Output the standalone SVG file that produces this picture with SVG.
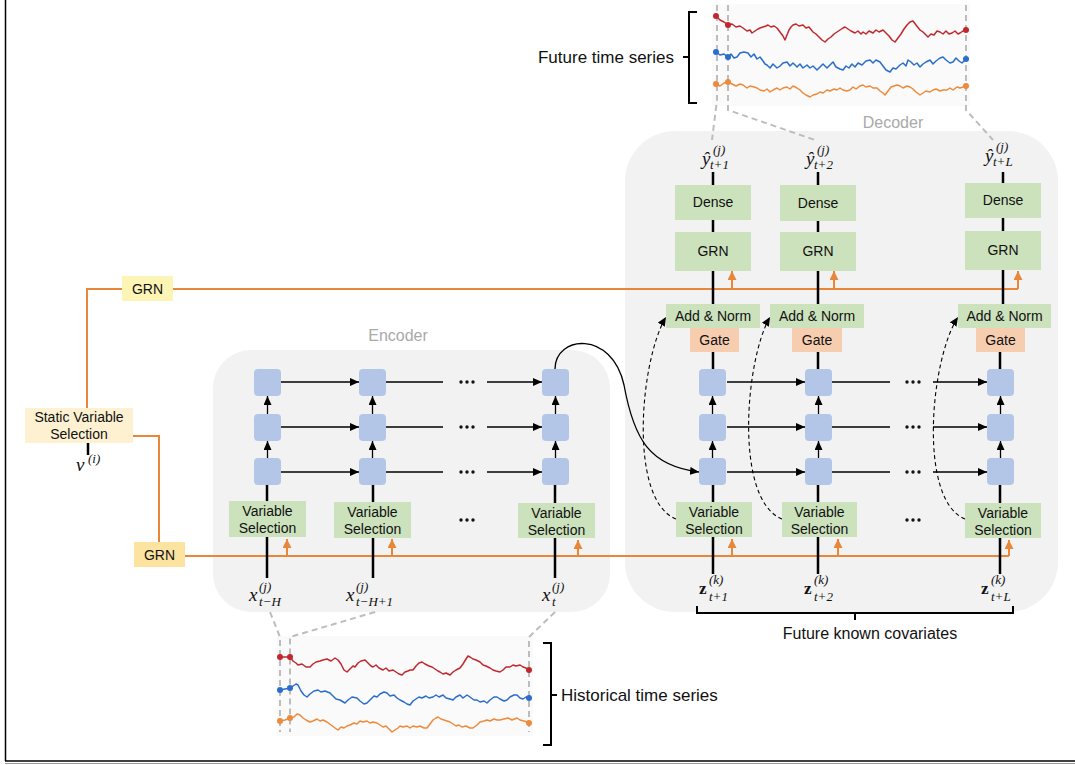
<svg xmlns="http://www.w3.org/2000/svg" width="1075" height="765" viewBox="0 0 1075 765">
<defs>
<style>
.panel{fill:#f2f2f2}
.ptitle{font-family:"Liberation Sans",Arial,sans-serif;font-size:16px;fill:#a9a9a9;text-anchor:middle}
.sq{fill:#b4c6e7}
.grn{fill:#cce2bd}
.gate{fill:#f7cdb0}
.lbl{font-family:"Liberation Sans",Arial,sans-serif;font-size:14px;fill:#111;text-anchor:middle}
.big{font-family:"Liberation Sans",Arial,sans-serif;font-size:17px;fill:#111}
.m{font-family:"Liberation Serif","Times New Roman",serif;font-style:italic;fill:#111}
.mu{font-family:"Liberation Serif","Times New Roman",serif;font-weight:bold;fill:#111}
.stem{stroke:#000;stroke-width:2.5;fill:none}
.thin{stroke:#000;stroke-width:1.3;fill:none}
.arr{stroke:#000;stroke-width:1.3;fill:none;marker-end:url(#ah)}
.dash{stroke:#000;stroke-width:1.1;fill:none;stroke-dasharray:4 3;marker-end:url(#ah)}
.or{stroke:#e8873a;stroke-width:2;fill:none}
.orar{stroke:#e8873a;stroke-width:2;fill:none;marker-end:url(#oh)}
.guide{stroke:#bdbdbd;stroke-width:2;fill:none;stroke-dasharray:6 4}
.brk{stroke:#000;stroke-width:2;fill:none}
.sr{stroke:#c1272d;stroke-width:1.5;fill:none;stroke-linejoin:round}
.sb{stroke:#2a6dcc;stroke-width:1.5;fill:none;stroke-linejoin:round}
.so{stroke:#ee8a3a;stroke-width:1.5;fill:none;stroke-linejoin:round}
</style>
<marker id="ah" markerUnits="userSpaceOnUse" markerWidth="10" markerHeight="8" refX="9" refY="4" orient="auto">
<path d="M0,0 L9,4 L0,8 z" fill="#000"/>
</marker>
<marker id="oh" markerUnits="userSpaceOnUse" markerWidth="10" markerHeight="9" refX="9" refY="4.5" orient="auto">
<path d="M0,0 L9,4.5 L0,9 z" fill="#e8873a"/>
</marker>
<g id="dots"><circle cx="-6" cy="0" r="1.7" fill="#111"/><circle cx="0" cy="0" r="1.7" fill="#111"/><circle cx="6" cy="0" r="1.7" fill="#111"/></g>
<!-- one column of three stacked cells with upward arrows, origin at cell column centre -->
<g id="cells">
<rect class="sq" x="-13.5" y="369" width="27" height="27" rx="4"/>
<rect class="sq" x="-13.5" y="414" width="27" height="27" rx="4"/>
<rect class="sq" x="-13.5" y="458" width="27" height="27" rx="4"/>
<line class="arr" x1="0" y1="458" x2="0" y2="441"/>
<line class="arr" x1="0" y1="414" x2="0" y2="396"/>
</g>
<!-- three horizontal arrows between neighbouring columns -->
<g id="hrow">
<line class="arr" x1="0" y1="382" x2="78" y2="382"/>
<line class="arr" x1="0" y1="427" x2="78" y2="427"/>
<line class="arr" x1="0" y1="472" x2="78" y2="472"/>
</g>
</defs>

<rect width="1075" height="765" fill="#fff"/>
<!-- page frame -->
<line x1="5.5" y1="0" x2="5.5" y2="761" stroke="#000" stroke-width="1.5"/>
<line x1="5" y1="761" x2="1075" y2="761" stroke="#000" stroke-width="1.5"/>
<line x1="5" y1="763.5" x2="1075" y2="763.5" stroke="#9a9a9a" stroke-width="1"/>

<!-- panels -->
<g id="encoder-panel">
<rect class="panel" x="213" y="350" width="397" height="262" rx="38"/>
<text class="ptitle" x="398" y="341">Encoder</text>
</g>
<g id="decoder-panel">
<rect class="panel" x="625" y="131" width="433" height="481" rx="50"/>
<text class="ptitle" x="893" y="128">Decoder</text>
</g>

<!-- time series -->
<g id="future-series">
<rect x="712" y="4" width="258" height="102" fill="#fafafa"/>
<path class="guide" d="M717,5 V100 L712,140"/>
<path class="guide" d="M728,5 V110 L815,140"/>
<path class="guide" d="M966,5 V110 L993,140"/>
<polyline class="sr" points="716,16 720,20 724,22 728,25 732,24 736,27 740,26 743,28 747,31 750,30 752,33 755,31 758,29 760,28 763,27 766,26 768,25 771,27 774,26 777,28 780,32 783,36 785,40 787,35 789,30 791,27 793,25 796,24 799,26 803,25 806,28 809,27 813,32 816,34 819,37 822,40 825,42 828,39 831,37 834,34 837,32 840,30 843,28 845,27 848,29 851,31 855,33 858,31 861,34 863,32 866,34 869,31 873,33 876,30 879,32 883,30 886,33 889,36 892,40 895,42 898,38 901,34 904,29 907,25 910,22 913,21 916,25 920,30 923,32 926,35 928,37 931,34 934,35 937,31 940,32 943,34 946,31 949,34 952,33 955,31 958,34 960,33 963,31 966,30"/>
<polyline class="sb" points="716,52 720,55 724,54 728,57 731,54 734,58 737,57 740,53 744,52 748,53 751,57 754,54 757,59 760,57 763,61 765,64 767,65 770,68 773,64 777,68 780,66 783,63 787,62 790,66 793,63 797,67 800,64 803,68 807,65 810,68 813,66 817,70 820,67 823,64 827,68 830,65 833,62 836,67 840,69 843,70 846,66 849,68 852,64 855,67 858,63 862,65 866,61 870,60 873,63 876,60 880,62 883,66 886,70 890,72 893,68 896,69 900,65 903,63 906,66 908,60 911,62 914,65 917,63 920,67 923,64 926,62 930,60 933,64 936,61 940,58 943,57 946,60 950,63 953,62 956,58 959,61 962,63 966,59"/>
<polyline class="so" points="716,84 720,86 724,83 728,82 732,84 736,86 740,84 743,85 747,88 750,86 754,87 757,88 760,90 764,91 767,89 770,92 773,90 777,88 780,90 783,88 787,87 790,89 793,86 797,88 800,90 803,93 806,95 810,97 813,95 817,94 820,92 823,93 827,90 830,91 834,89 837,90 840,88 843,90 847,91 850,90 853,87 856,89 860,86 863,85 866,87 870,86 873,88 877,88 880,91 883,93 885,95 888,91 891,87 894,86 897,85 900,86 903,88 907,86 910,87 913,89 916,92 920,95 923,93 926,91 930,92 933,90 936,89 940,91 943,90 947,90 950,88 953,90 957,87 960,88 963,87 966,86"/>
<g fill="#c1272d"><circle cx="716" cy="16" r="3"/><circle cx="728" cy="25" r="3"/><circle cx="966" cy="30" r="3"/></g>
<g fill="#2a6dcc"><circle cx="716" cy="52" r="3"/><circle cx="728" cy="57" r="3"/><circle cx="966" cy="59" r="3"/></g>
<g fill="#ee8a3a"><circle cx="716" cy="84" r="3"/><circle cx="728" cy="82" r="3"/><circle cx="966" cy="86" r="3"/></g>
<path class="brk" d="M697,12 H689 V103 H697 M689,57 H683"/>
<text class="big" x="674" y="63" text-anchor="end">Future time series</text>
</g>

<g id="historical-series">
<rect x="277" y="636" width="256" height="100" fill="#fafafa"/>
<path class="guide" d="M270,612 L280,637 V732"/>
<path class="guide" d="M375,612 L290,637 V732"/>
<path class="guide" d="M555,612 L529,637 V732"/>
<polyline class="sr" points="280,657 290,657 293,661 296,663 298,665 302,664 306,667 310,667 313,664 316,662 320,661 323,660 327,659 331,661 335,658 338,660 341,664 344,670 347,672 350,669 353,666 355,667 358,663 361,661 365,660 368,663 371,666 373,667 376,665 379,668 383,670 386,668 389,671 393,670 396,672 399,674 402,675 405,672 408,671 410,670 413,670 416,666 419,663 422,662 425,664 429,666 432,667 435,669 438,671 440,672 443,674 446,673 450,675 453,672 456,670 460,668 463,664 466,659 468,656 470,657 473,659 476,660 480,662 483,665 486,666 490,668 493,670 496,671 500,672 503,670 506,667 510,667 513,665 516,666 520,665 523,667 526,668 529,670"/>
<polyline class="sb" points="280,690 285,689 290,688 293,686 296,684 298,685 301,691 304,695 307,697 310,694 314,691 318,690 321,692 325,691 330,693 333,696 336,699 340,700 345,703 348,700 352,697 357,698 360,701 364,704 367,703 370,700 374,696 377,697 380,694 384,692 387,693 390,696 394,695 397,698 400,700 404,702 407,704 410,705 413,701 416,699 419,697 422,698 426,696 429,698 433,697 436,695 439,697 443,695 446,698 450,699 453,700 456,697 460,695 463,698 467,695 470,697 474,700 477,700 480,702 484,701 487,703 490,700 494,697 497,697 500,699 504,701 507,700 510,697 514,695 517,695 520,698 523,699 526,697 529,698"/>
<polyline class="so" points="280,721 285,720 290,718 294,717 297,714 300,715 303,718 306,720 310,722 313,721 317,719 320,721 323,720 327,722 331,725 335,728 338,730 341,727 344,728 347,726 350,725 354,723 357,724 360,721 363,722 367,721 370,723 373,722 377,723 380,725 383,727 386,726 389,729 392,732 395,730 398,728 400,726 403,727 407,726 410,728 413,726 417,727 420,726 424,728 427,728 430,724 433,720 436,718 438,717 441,719 444,720 447,721 450,722 453,724 456,726 459,725 462,727 466,726 470,728 473,728 477,725 480,722 484,721 487,720 490,721 494,719 497,720 500,720 504,719 508,718 512,720 517,718 520,720 524,721 527,722 529,723"/>
<g fill="#c1272d"><circle cx="280" cy="657" r="3"/><circle cx="290" cy="657" r="3"/><circle cx="529" cy="670" r="3"/></g>
<g fill="#2a6dcc"><circle cx="280" cy="690" r="3"/><circle cx="290" cy="688" r="3"/><circle cx="529" cy="698" r="3"/></g>
<g fill="#ee8a3a"><circle cx="280" cy="721" r="3"/><circle cx="290" cy="718" r="3"/><circle cx="529" cy="723" r="3"/></g>
<path class="brk" d="M543,643 H551 V745 H543 M551,695 H557"/>
<text class="big" x="561" y="701">Historical time series</text>
</g>

<!-- connectors -->
<g id="connectors">
<!-- static context paths -->
<path class="or" d="M87,408 V289 H122"/>
<path class="or" d="M173,289 H1018"/>
<line class="orar" x1="732" y1="289" x2="732" y2="271"/>
<line class="orar" x1="834" y1="289" x2="834" y2="271"/>
<line class="orar" x1="1018" y1="289" x2="1018" y2="271"/>
<path class="or" d="M133,436 H159 V542"/>
<path class="or" d="M185,556 H1009"/>
<line class="orar" x1="287" y1="556" x2="287" y2="539"/>
<line class="orar" x1="392" y1="556" x2="392" y2="539"/>
<line class="orar" x1="578" y1="556" x2="578" y2="540"/>
<line class="orar" x1="732" y1="556" x2="732" y2="539"/>
<line class="orar" x1="838" y1="556" x2="838" y2="539"/>
<line class="orar" x1="1009" y1="556" x2="1009" y2="540"/>
<line class="stem" x1="88" y1="443" x2="88" y2="455"/>

<!-- encoder stems -->
<path class="stem" d="M267,578 V485 M373,578 V485 M555,578 V485"/>
<!-- encoder horizontal links -->
<use href="#hrow" x="281"/>
<path class="thin" d="M386,382 H443 M386,427 H443 M386,472 H443"/>
<line class="arr" x1="487" y1="382" x2="542" y2="382"/>
<line class="arr" x1="487" y1="427" x2="542" y2="427"/>
<line class="arr" x1="487" y1="472" x2="542" y2="472"/>

<!-- encoder to decoder state -->
<path class="arr" d="M555,369 C555,335 612,330 624,385 C634,440 650,466 699,472"/>

<!-- decoder stems -->
<path class="stem" d="M713,574 V485 M818,574 V485 M1000,574 V485"/>
<path class="stem" d="M713,352 V369 M818,352 V369 M1000,352 V369"/>
<path class="stem" d="M713,304 V271 M818,304 V271 M1003,304 V270"/>
<path class="stem" d="M713,232 V220 M818,232 V221 M1003,231 V218"/>
<path class="stem" d="M713,185 V172 M818,185 V172 M1003,183 V172"/>
<!-- decoder horizontal links -->
<use href="#hrow" x="727"/>
<path class="thin" d="M832,382 H890 M832,427 H890 M832,472 H890"/>
<line class="arr" x1="933" y1="382" x2="987" y2="382"/>
<line class="arr" x1="933" y1="427" x2="987" y2="427"/>
<line class="arr" x1="933" y1="472" x2="987" y2="472"/>

<!-- skip connections -->
<path class="dash" d="M676,519 C628,500 640,360 666,317"/>
<path class="dash" d="M782,519 C734,500 745,360 770,317"/>
<path class="dash" d="M965,519 C918,500 930,360 958,317"/>
</g>

<!-- static nodes -->
<g id="static-vs">
<rect x="25" y="408" width="108" height="35" fill="#fdf1d2"/>
<text class="lbl" x="79" y="422">Static Variable</text>
<text class="lbl" x="79" y="439">Selection</text>
</g>
<g id="static-grn-top">
<rect x="122" y="276" width="51" height="25" fill="#fcf5b5"/>
<text class="lbl" x="147.5" y="294">GRN</text>
</g>
<g id="static-grn-bottom">
<rect x="134" y="542" width="51" height="25" fill="#fde3a0"/>
<text class="lbl" x="159.5" y="560">GRN</text>
</g>
<g id="v-label">
<text class="m" x="76" y="471" font-size="19">v</text>
<text class="m" x="88" y="463" font-size="13">(i)</text>
</g>

<!-- encoder nodes -->
<g id="enc-col1">
<use href="#cells" x="267.5"/>
<rect class="grn" x="229" y="501" width="77" height="36"/>
<text class="lbl" x="267.5" y="516">Variable</text>
<text class="lbl" x="267.5" y="533">Selection</text>
<text class="m" x="249" y="601" font-size="19">x</text>
<text class="m" x="259" y="591" font-size="13">(j)</text>
<text class="m" x="259" y="606" font-size="13">t−H</text>
</g>
<g id="enc-col2">
<use href="#cells" x="372.5"/>
<rect class="grn" x="334" y="502" width="77" height="36"/>
<text class="lbl" x="372.5" y="517">Variable</text>
<text class="lbl" x="372.5" y="534">Selection</text>
<text class="m" x="346" y="601" font-size="19">x</text>
<text class="m" x="356" y="591" font-size="13">(j)</text>
<text class="m" x="356" y="606" font-size="13">t−H+1</text>
</g>
<g id="enc-col3">
<use href="#cells" x="555.5"/>
<rect class="grn" x="518" y="503" width="77" height="35"/>
<text class="lbl" x="556.5" y="518">Variable</text>
<text class="lbl" x="556.5" y="535">Selection</text>
<text class="m" x="542" y="601" font-size="19">x</text>
<text class="m" x="552" y="591" font-size="13">(j)</text>
<text class="m" x="552" y="606" font-size="13">t</text>
</g>
<g id="enc-ellipses">
<use href="#dots" x="467" y="382"/>
<use href="#dots" x="467" y="427"/>
<use href="#dots" x="467" y="472"/>
<use href="#dots" x="467" y="520"/>
</g>

<!-- decoder nodes -->
<g id="dec-col1">
<text class="m" x="702" y="165" font-size="19">ŷ</text>
<text class="m" x="713" y="154" font-size="13">(j)</text>
<text class="m" x="710" y="169" font-size="13">t+1</text>
<rect class="grn" x="675" y="185" width="76" height="35"/>
<text class="lbl" x="713" y="207">Dense</text>
<rect class="grn" x="675" y="232" width="76" height="39"/>
<text class="lbl" x="713" y="256">GRN</text>
<rect class="grn" x="666" y="304" width="94" height="24"/>
<text class="lbl" x="713" y="321">Add &amp; Norm</text>
<rect class="gate" x="690" y="328" width="49" height="24"/>
<text class="lbl" x="714.5" y="345">Gate</text>
<use href="#cells" x="712.5"/>
<rect class="grn" x="676" y="502" width="76" height="35"/>
<text class="lbl" x="714" y="517">Variable</text>
<text class="lbl" x="714" y="534">Selection</text>
<text class="mu" x="699" y="594" font-size="17">z</text>
<text class="m" x="709" y="584" font-size="13">(k)</text>
<text class="m" x="709" y="601" font-size="13">t+1</text>
</g>
<g id="dec-col2">
<text class="m" x="806" y="165" font-size="19">ŷ</text>
<text class="m" x="817" y="154" font-size="13">(j)</text>
<text class="m" x="814" y="169" font-size="13">t+2</text>
<rect class="grn" x="780" y="185" width="76" height="36"/>
<text class="lbl" x="818" y="208">Dense</text>
<rect class="grn" x="780" y="232" width="76" height="39"/>
<text class="lbl" x="818" y="256">GRN</text>
<rect class="grn" x="770" y="304" width="94" height="24"/>
<text class="lbl" x="817" y="321">Add &amp; Norm</text>
<rect class="gate" x="792" y="328" width="50" height="24"/>
<text class="lbl" x="817" y="345">Gate</text>
<use href="#cells" x="818.5"/>
<rect class="grn" x="782" y="502" width="75" height="35"/>
<text class="lbl" x="819.5" y="517">Variable</text>
<text class="lbl" x="819.5" y="534">Selection</text>
<text class="mu" x="804" y="594" font-size="17">z</text>
<text class="m" x="814" y="584" font-size="13">(k)</text>
<text class="m" x="814" y="601" font-size="13">t+2</text>
</g>
<g id="dec-col3">
<text class="m" x="985" y="162" font-size="19">ŷ</text>
<text class="m" x="996" y="151" font-size="13">(j)</text>
<text class="m" x="993" y="166" font-size="13">t+L</text>
<rect class="grn" x="965" y="183" width="76" height="35"/>
<text class="lbl" x="1003" y="205">Dense</text>
<rect class="grn" x="965" y="231" width="76" height="39"/>
<text class="lbl" x="1003" y="255">GRN</text>
<rect class="grn" x="958" y="304" width="93" height="24"/>
<text class="lbl" x="1004.5" y="321">Add &amp; Norm</text>
<rect class="gate" x="976" y="328" width="49" height="24"/>
<text class="lbl" x="1000.5" y="345">Gate</text>
<use href="#cells" x="1000.5"/>
<rect class="grn" x="965" y="503" width="76" height="35"/>
<text class="lbl" x="1003" y="518">Variable</text>
<text class="lbl" x="1003" y="535">Selection</text>
<text class="mu" x="981" y="594" font-size="17">z</text>
<text class="m" x="991" y="584" font-size="13">(k)</text>
<text class="m" x="991" y="601" font-size="13">t+L</text>
</g>
<g id="dec-ellipses">
<use href="#dots" x="913" y="382"/>
<use href="#dots" x="913" y="427"/>
<use href="#dots" x="913" y="472"/>
<use href="#dots" x="913" y="520"/>
</g>
<g id="covariates-brace">
<path class="brk" d="M697,606 V613 H1013 V606 M855,613 V620"/>
<text class="big" x="870" y="639" text-anchor="middle" style="font-size:16px">Future known covariates</text>
</g>
</svg>
